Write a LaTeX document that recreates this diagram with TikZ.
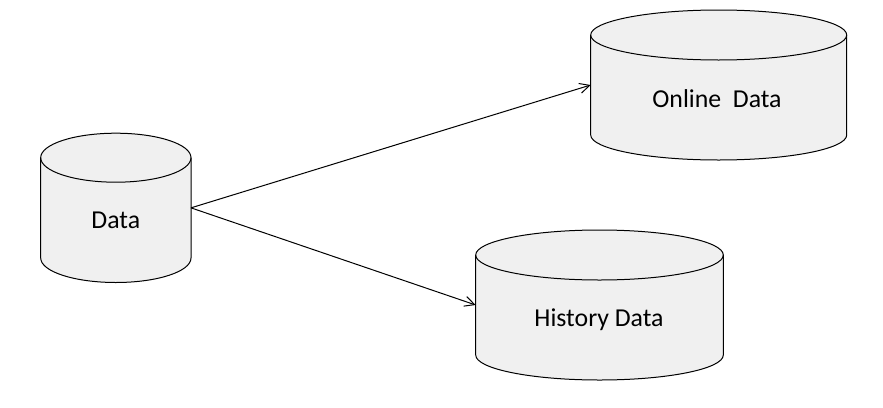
\documentclass[tikz,border=0pt]{standalone}
\usepackage{fontspec}
\setmainfont{Carlito}
\usetikzlibrary{arrows.meta}
\definecolor{cylgray}{HTML}{F0F0F0}
\begin{document}
\begin{tikzpicture}[x=1pt,y=-1pt,
  body/.style={rectangle, inner sep=0pt, outer sep=0pt},
  cyl/.style={fill=cylgray, draw=black, line width=1pt},
  cylline/.style={draw=black, line width=1pt},
  lbl/.style={anchor=base, inner sep=0pt, font=\fontsize{25.8}{30}\selectfont},
  link/.style={draw=black, line width=1pt, -{Straight Barb[length=10pt,width=10pt]}}]
\useasboundingbox (0,0) rectangle (883,407);
\node[body, minimum width=150.3pt, minimum height=100.3pt] (data) at (115.85,207.85) {};
\node[body, minimum width=256pt, minimum height=100pt] (online) at (718.7,85) {};
\node[body, minimum width=247.6pt, minimum height=100pt] (history) at (599.5,305) {};
\foreach \n/\rx/\ry in {data/75.15/24.5, online/128/25, history/123.8/25} {
  \filldraw[cyl] (\n.south west) arc[start angle=180,end angle=360,x radius=\rx pt,y radius=\ry pt]
    -- (\n.north east) arc[start angle=0,end angle=180,x radius=\rx pt,y radius=\ry pt] -- cycle;
  \draw[cylline] (\n.north west) arc[start angle=180,end angle=360,x radius=\rx pt,y radius=\ry pt];
}
\node[lbl] (datalbl) at (115.8,228.3) {Data};
\node[lbl] (onlinelbl) at (717,107.3) {Online\ \ Data};
\node[lbl] (historylbl) at (599,326.7) {History Data};
\draw[link] (data.east) -- (online.west);
\draw[link] (data.east) -- (history.west);
\end{tikzpicture}
\end{document}
